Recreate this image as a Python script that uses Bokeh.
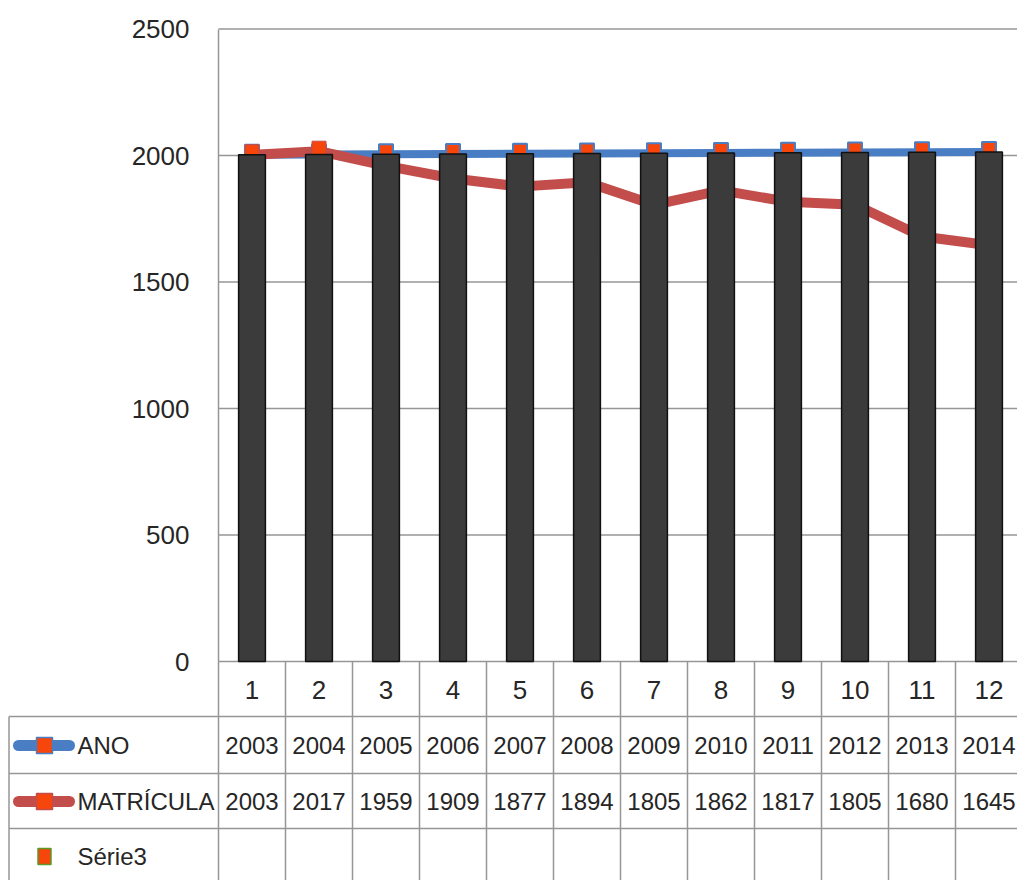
from bokeh.plotting import figure
from bokeh.models import ColumnDataSource, LinearAxis, FixedTicker
from bokeh.core.properties import value
from bokeh.embed import file_html
from bokeh.resources import INLINE

# ---------------- data ----------------
categories = [1, 2, 3, 4, 5, 6, 7, 8, 9, 10, 11, 12]
ano = [2003, 2004, 2005, 2006, 2007, 2008, 2009, 2010, 2011, 2012, 2013, 2014]
matricula = [2003, 2017, 1959, 1909, 1877, 1894, 1805, 1862, 1817, 1805, 1680, 1645]
y_ticks = [0, 500, 1000, 1500, 2000, 2500]
series_names = ["ANO", "MATRÍCULA", "Série3"]

# ---------------- layout helpers (pixels -> data) ----------------
W, H = 1017, 880
UNIT_X = 67.0          # px per category
X0_PX = 218.0          # px position of x = 0.5 (plot left edge)
PX_PER_Y = 506.0 / 2000.0
Y0_PX = 661.0          # px position (from top) of y = 0


def dx(px):
    return 0.5 + (px - X0_PX) / UNIT_X


def dy(px):
    return (Y0_PX - px) / PX_PER_Y


x_start, x_end = dx(0), dx(W)
y_start, y_end = dy(H), dy(0)

FONT = "Liberation Sans"
TXT = "#262626"
GRID = "#969696"
BLUE = "#4a7ec4"
RED = "#c24d4b"
ORANGE = "#f7460c"
BAR = "#3b3b3b"

p = figure(width=W, height=H, x_range=(x_start, x_end), y_range=(y_start, y_end),
           output_backend="svg", toolbar_location=None, min_border=0,
           x_axis_type=None, y_axis_type=None, outline_line_color=None,
           background_fill_color="white", border_fill_color="white")
p.xgrid.visible = False
p.ygrid.visible = False

# y axis placed at the plot's left edge
yaxis = LinearAxis(ticker=FixedTicker(ticks=y_ticks), fixed_location=0.5, bounds=(0, 2500),
                   axis_line_color=GRID, axis_line_width=1.5,
                   major_tick_line_color=None, minor_tick_line_color=None,
                   major_label_text_font=FONT, major_label_text_font_size="26px",
                   major_label_text_color=TXT, major_label_standoff=23)
p.add_layout(yaxis, "left")

# horizontal gridlines (plot area only)
grid_y = [t for t in y_ticks if t > 0]
p.segment(x0=[0.5] * len(grid_y), x1=[x_end] * len(grid_y), y0=grid_y, y1=grid_y,
          line_color=GRID, line_width=1.5)

# ---------------- data table grid ----------------
row_px = [661.0, 716.0, 773.0, 828.0]
row_center_px = [689.0, 745.0, 801.0, 856.0]
left_edge = dx(8.5)

hx0 = [0.5, left_edge, left_edge, left_edge]
hy = [dy(r) for r in row_px]
p.segment(x0=hx0, x1=[x_end] * 4, y0=hy, y1=hy, line_color=GRID, line_width=1.5)

vx = [c + 0.5 for c in [0] + categories]
p.segment(x0=vx, x1=vx, y0=[0] * len(vx), y1=[y_start] * len(vx),
          line_color=GRID, line_width=1.5)
p.segment(x0=[left_edge], x1=[left_edge], y0=[dy(row_px[1])], y1=[y_start],
          line_color=GRID, line_width=1.5)

# ---------------- series ----------------
src = ColumnDataSource(dict(x=categories, ano=ano, mat=matricula,
                            ano_s=[str(v) for v in ano],
                            mat_s=[str(v) for v in matricula],
                            cat_s=[str(c) for c in categories]))

p.line("x", "ano", source=src, line_color=BLUE, line_width=8)
p.rect("x", "ano", width=14, height=20, width_units="screen", height_units="screen",
       source=src, fill_color=ORANGE, line_color=BLUE, line_width=2)
p.line("x", "mat", source=src, line_color=RED, line_width=10)
p.rect("x", "mat", width=14, height=20, width_units="screen", height_units="screen",
       source=src, fill_color=ORANGE, line_color=RED, line_width=1)

p.vbar(x="x", top="ano", bottom=0, width=0.4, source=src,
       fill_color=BAR, line_color="#111111", line_width=1.5)

# ---------------- table texts ----------------
text_kw = dict(text_font=value(FONT), text_color=TXT,
               text_align="center", text_baseline="middle")
p.text(x="x", y=dy(row_center_px[0]), text="cat_s", source=src,
       text_font_size="26px", **text_kw)
p.text(x="x", y=dy(row_center_px[1]), text="ano_s", source=src,
       text_font_size="24px", **text_kw)
p.text(x="x", y=dy(row_center_px[2]), text="mat_s", source=src,
       text_font_size="24px", **text_kw)

# legend keys inside the table
key_y = [dy(row_center_px[1]), dy(row_center_px[2]), dy(row_center_px[3])]
p.segment(x0=[dx(18)], x1=[dx(69)], y0=[key_y[0]], y1=[key_y[0]],
          line_color=BLUE, line_width=11, line_cap="round")
p.segment(x0=[dx(18)], x1=[dx(69)], y0=[key_y[1]], y1=[key_y[1]],
          line_color=RED, line_width=11, line_cap="round")
p.rect(x=[dx(44), dx(44)], y=key_y[:2], width=16, height=16,
       width_units="screen", height_units="screen",
       fill_color=ORANGE, line_color=[BLUE, RED], line_width=1.5)
p.rect(x=[dx(44)], y=[key_y[2]], width=13, height=16,
       width_units="screen", height_units="screen",
       fill_color=ORANGE, line_color="#5a9a2a", line_width=1.5)

p.text(x=[dx(77)] * 3, y=key_y, text=series_names,
       text_font=value(FONT), text_font_size="24px", text_color=TXT,
       text_align="left", text_baseline="middle")

open("out.html", "w").write(file_html(p, INLINE))
